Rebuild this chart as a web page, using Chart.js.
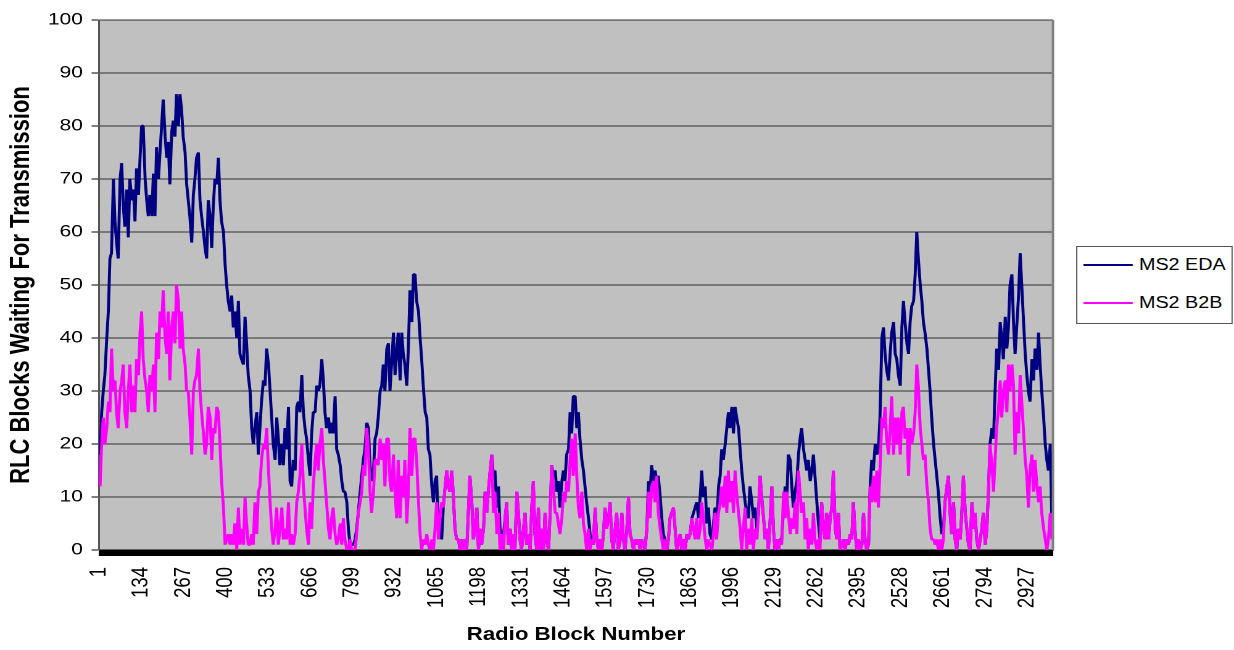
<!DOCTYPE html>
<html>
<head>
<meta charset="utf-8">
<script src="https://cdn.jsdelivr.net/npm/chart.js@4/dist/chart.umd.min.js"></script>
<style>
html, body { margin: 0; padding: 0; background: #fff; overflow: hidden; }
#wrap { position: absolute; left: 0; top: 0; width: 1000px; height: 650px; transform: scaleX(1.234); transform-origin: 0 0; }
#c { position: absolute; left: 0; top: 0; width: 1000px; height: 650px; }
#legend { position: absolute; left: 872px; top: 246px; width: 125px; height: 76px; border: 1px solid #555; background: #fff;
  font-family: "Liberation Sans", Arial, sans-serif; font-size: 16px; color: #000; }
.item { position: absolute; left: 5px; height: 20px; display: flex; align-items: center; white-space: nowrap; }
.swatch { width: 40px; height: 2px; margin-right: 5px; }
</style>
</head>
<body>
<div id="wrap">
  <canvas id="c" width="1000" height="650"></canvas>
  <div id="legend"></div>
</div>
<script>
// ---- data (one sample about every 5 radio blocks) ----
const seriesNames = ['MS2 EDA', 'MS2 B2B'];
const seriesColors = ['#000080', '#FF00FF'];

const edaValues = [
  18,26,30,33,40,45,55,56,70,62, 58,55,70,73,65,61,68,59,70,66,
  68,62,72,67,74,80,80,70,66,63, 67,63,71,63,76,70,75,80,85,78,
  74,77,69,79,81,78,86,80,86,83, 78,75,69,66,63,58,67,70,74,75,
  66,63,60,57,55,66,63,57,65,70, 69,74,66,62,60,54,50,47,45,48,
  42,45,40,47,37,36,35,44,39,33, 30,23,20,
  23,26,18,23,28,32,31,38,35,30, 25,20,17,25,21,16,20,16,23,19,
  27,13,12,17,15,27,28,26,33,26, 23,21,17,14,22,26,26,31,30,31,
  36,32,26,23,25,22,24,22,29,19, 18,16,13,11,11,9,4,1,1,1,
  2,4,7,11,14,17,19,24,23,16, 13,15,21,22,25,30,31,35,30,38,
  39,30,35,41,33,37,41,32,41,37, 35,31,38,49,43,52,
  52,47,45,40,36,31,26,25,19,18, 12,9,13,14,4,6,2,8,12,15,
  12,11,15,10,4,2,2,0,2,0, 2,0,7,14,9,2,4,8,0,4,
  1,4,11,7,11,15,18,14,15,8, 12,4,1,3,6,9,1,4,0,3,
  0,11,7,2,0,4,7,1,3,0, 8,13,3,0,8,0,4,0,7,2,
  0,7,16,14,15,11,13,8,13,15, 13,18,19,26,22,29,
  29,23,26,21,17,15,12,9,6,3, 2,1,8,2,0,2,0,3,8,4,
  6,9,2,0,4,7,0,2,7,2, 0,4,10,3,2,0,2,1,2,0,
  2,1,0,4,13,11,16,13,15,13, 14,10,6,3,2,0,2,6,7,8,
  4,0,1,3,0,2,0,3,2,3, 6,7,8,9,6,10,15,10,12,5,
  8,3,2,5,8,4,12,14,19,17, 20,23,26,23,27,22,
  27,25,23,19,15,12,9,7,6,12, 9,6,8,4,7,14,10,6,2,4,
  0,6,12,4,0,2,0,2,2,8, 12,9,18,17,12,8,11,13,18,21,
  23,19,17,15,17,13,15,18,14,9, 5,2,9,4,2,7,2,6,8,15,
  4,2,7,0,1,2,0,2,1,3, 2,9,3,0,2,0,1,7,2,0,
  1,12,17,15,20,18,19,25,40,42, 37,34,32,37,41,43,
  37,36,33,31,42,47,43,39,37,43, 46,47,52,60,55,50,47,43,41,38,
  34,30,25,20,17,14,11,6,3,4, 9,12,14,7,3,9,2,0,4,2,
  7,14,7,4,1,0,9,4,7,2, 0,2,4,7,1,4,11,20,23,21,
  30,38,34,43,40,36,44,38,42,50, 52,43,37,42,48,56,50,44,37,33,
  30,28,36,32,38,34,41,35,30,25, 20,17,15,20,5
];

const b2bValues = [
  12,20,25,20,23,28,26,38,30,32, 26,23,30,32,35,26,23,30,35,26,
  31,26,36,33,41,45,36,32,30,26, 33,30,35,26,41,36,45,42,49,40,
  37,45,32,42,45,39,50,47,38,45, 38,35,30,30,25,18,30,32,33,38,
  30,26,22,18,20,27,25,17,23,22, 27,26,20,13,8,1,2,3,1,3,
  1,5,0,8,1,4,1,10,5,1, 1,3,1,
  9,3,11,12,17,20,19,23,15,9, 4,1,4,8,1,4,8,2,4,2,
  9,1,3,1,3,9,11,14,20,12, 8,4,1,9,4,12,17,20,15,20,
  23,17,13,9,4,2,6,8,3,1, 2,5,1,6,2,0,0,2,0,0,
  0,3,7,9,11,16,14,23,19,11, 7,11,17,17,16,21,17,20,12,21,
  21,13,11,18,11,6,17,6,14,10, 17,5,11,23,14,21,
  21,17,9,3,0,2,1,3,1,0, 2,0,4,9,2,6,9,8,12,15,
  12,11,15,10,4,2,2,0,2,0, 2,0,7,14,9,2,4,8,0,4,
  1,4,11,7,11,15,18,7,11,3, 7,0,3,0,6,9,1,4,0,3,
  0,11,7,2,0,4,7,1,3,0, 8,13,3,0,8,0,4,0,7,2,
  0,7,16,12,7,7,5,3,6,11, 9,13,11,17,21,14,
  22,14,8,6,11,5,3,0,4,0, 2,1,8,2,0,2,0,3,8,4,
  6,9,2,0,4,7,0,2,7,2, 0,4,10,3,2,0,2,1,2,0,
  2,1,0,4,11,6,12,13,9,14, 7,4,2,0,2,0,2,6,7,8,
  4,0,1,3,0,2,0,3,2,3, 6,4,2,6,2,4,9,6,2,0,
  2,1,0,3,7,2,7,9,12,8, 14,7,15,9,13,7,
  15,11,7,4,0,4,8,0,4,1, 6,0,4,2,7,14,10,6,2,4,
  0,6,12,4,0,2,0,2,1,11, 6,11,7,3,6,4,9,3,15,11,
  7,9,2,6,0,4,1,7,2,0, 2,0,9,4,2,7,2,6,8,15,
  4,2,7,0,1,2,0,2,1,3, 2,9,3,0,2,0,1,7,2,0,
  1,12,9,14,9,15,8,15,25,23, 27,21,18,23,29,18,
  25,20,25,18,26,27,21,23,14,23, 20,22,26,35,31,23,20,17,18,12,
  9,4,2,2,1,2,0,2,0,2, 9,12,14,7,3,9,2,0,4,2,
  7,14,7,4,1,0,9,4,7,2, 0,2,4,7,1,4,11,20,16,11,
  17,23,27,32,25,30,32,26,35,30, 35,31,18,26,22,33,28,23,17,14,
  8,15,18,11,17,12,9,12,7,4, 2,0,2,7,2
];

const xTickLabels = [1,134,267,400,533,666,799,932,1065,1198,1331,1464,1597,1730,1863,1996,2129,2262,2395,2528,2661,2794,2927];
const yTickValues = [0,10,20,30,40,50,60,70,80,90,100];

const TOTAL_BLOCKS = 3008;       // number of radio blocks on the category axis
const FIRST_SAMPLE_BLOCK = 3.65; // block of the first sample
const SAMPLE_STEP = 5.256;       // blocks between samples

// ---- derived structures ----
const sampleBlocks = edaValues.map((_, i) => Math.round(FIRST_SAMPLE_BLOCK + SAMPLE_STEP * i));
const blockTicks = [];
for (let b = 1; b <= TOTAL_BLOCKS; b++) blockTicks.push(b);
const labelSet = new Set(xTickLabels);

const FONT = '"Liberation Sans", Arial, sans-serif';
Chart.defaults.font.family = FONT;
Chart.defaults.color = '#000';

const plotFrame = {
  id: 'plotFrame',
  beforeDraw(chart) {
    const { ctx, chartArea: a } = chart;
    ctx.save();
    ctx.fillStyle = '#c0c0c0';
    ctx.fillRect(a.left, a.top, a.right - a.left, a.bottom - a.top);
    ctx.restore();
  },
  afterDraw(chart) {
    const { ctx, chartArea: a } = chart;
    ctx.save();
    ctx.strokeStyle = '#808080';
    ctx.lineWidth = 2;
    ctx.beginPath();
    ctx.moveTo(a.right, a.top);
    ctx.lineTo(a.right, a.bottom);
    ctx.stroke();
    ctx.restore();
  }
};

const seriesValues = [edaValues, b2bValues];
const datasets = seriesNames.map((name, s) => ({
  label: name,
  data: sampleBlocks.map((b, i) => ({ x: b, y: seriesValues[s][i] })),
  borderColor: seriesColors[s],
  backgroundColor: seriesColors[s],
  borderWidth: 2.4,
  borderJoinStyle: 'bevel',
  pointRadius: 0,
  tension: 0,
  fill: false,
  order: s === 0 ? 1 : 0
}));

new Chart(document.getElementById('c'), {
  type: 'line',
  data: { datasets },
  options: {
    responsive: false,
    animation: false,
    devicePixelRatio: 2,
    parsing: false,
    normalized: true,
    layout: { padding: { left: 0, right: 146.7, top: 20, bottom: 0 } },
    plugins: { legend: { display: false }, tooltip: { enabled: false } },
    scales: {
      x: {
        type: 'linear',
        min: 0.5,
        max: TOTAL_BLOCKS + 0.5,
        afterBuildTicks(scale) { scale.ticks = blockTicks.map(v => ({ value: v })); },
        afterFit(scale) { scale.height = 100; },
        grid: { display: true, drawOnChartArea: false, drawTicks: true, tickLength: 6, color: '#000', lineWidth: 1 },
        border: { display: true, color: '#000', width: 1 },
        ticks: {
          autoSkip: false, minRotation: 90, maxRotation: 90, padding: 11, color: '#000',
          font: { family: FONT, size: 18.5 },
          callback: (v) => labelSet.has(v) ? String(v) : ''
        },
        title: { display: true, text: 'Radio Block Number', color: '#000',
          font: { family: FONT, size: 18, weight: 'bold' }, padding: { top: 0, bottom: 4 } }
      },
      y: {
        min: 0, max: 100,
        afterBuildTicks(scale) { scale.ticks = yTickValues.map(v => ({ value: v })); },
        afterFit(scale) { scale.width = 80.2; },
        grid: { color: '#333', lineWidth: 1, tickLength: 6, tickColor: '#000' },
        border: { display: true, color: '#555', width: 1.5 },
        ticks: { padding: 7, color: '#000', font: { family: FONT, size: 17 } },
        title: { display: true, text: 'RLC Blocks Waiting For Transmission', color: '#000',
          font: { family: FONT, size: 22, weight: 'bold' }, padding: { top: 4, bottom: 0 } }
      }
    }
  },
  plugins: [plotFrame]
});

// legend (real text)
const legendEl = document.getElementById('legend');
const legendTops = [8, 46];
seriesNames.forEach((name, s) => {
  const item = document.createElement('div');
  item.className = 'item';
  item.style.top = legendTops[s] + 'px';
  const sw = document.createElement('div');
  sw.className = 'swatch';
  sw.style.background = seriesColors[s];
  const tx = document.createElement('span');
  tx.textContent = name;
  item.appendChild(sw);
  item.appendChild(tx);
  legendEl.appendChild(item);
});
</script>
</body>
</html>
